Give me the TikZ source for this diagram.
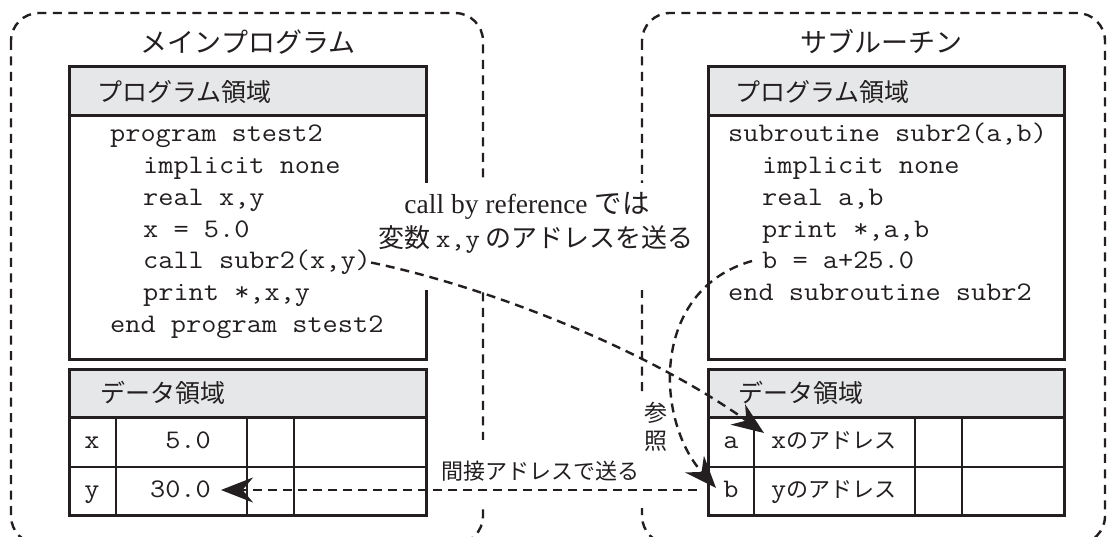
\documentclass[tikz,border=0pt]{standalone}
\usepackage{fontspec}
\setmainfont{Liberation Serif}
\setmonofont[FakeStretch=1.1]{Latin Modern Mono}
\newfontfamily\jp{Noto Sans CJK JP}
\usetikzlibrary{arrows.meta}
\definecolor{ink}{HTML}{231F20}
\definecolor{hdr}{HTML}{E6E7E8}
\tikzset{
  outerbox/.style={draw=ink, line width=2.4pt, dash pattern=on 9pt off 6.5pt, rounded corners=28pt},
  framebox/.style={draw=ink, line width=3pt},
  gridline/.style={draw=ink, line width=1.8pt},
  codeline/.style={anchor=base west, inner sep=0pt, font=\fontsize{26.8}{30}\ttfamily, text=ink},
  jptitle/.style={inner sep=0pt, text=ink, font={\jp\fontsize{27}{27}\selectfont}},
  jphead/.style={anchor=west, inner sep=0pt, text=ink, font={\jp\fontsize{25}{25}\selectfont}},
  cellmono/.style={inner sep=0pt, text=ink, font=\fontsize{26.8}{30}\ttfamily},
  darrow/.style={draw=ink, line width=2.4pt, dash pattern=on 9pt off 6pt, -{Stealth[length=32pt,width=25pt]}},
}
\begin{document}
\begin{tikzpicture}[x=1pt,y=-1pt]
\useasboundingbox (0,0) rectangle (1108,537);
\clip (0,0) rectangle (1108,537);
\fill[white] (0,0) rectangle (1108,537);

% outer dashed frames
\draw[outerbox] (11,13) rectangle (483,544);
\draw[outerbox] (642,13) rectangle (1105,544);

% left program box
\fill[hdr] (69,67) rectangle (426,116);
\draw[framebox] (69,67) rectangle (426,359);
\draw[framebox] (69,116) -- (426,116);
% left data box
\fill[hdr] (69,369) rectangle (426,417);
\draw[gridline] (69,467) -- (426,467) (116,417) -- (116,515) (247,417) -- (247,515) (294,417) -- (294,515);
\draw[framebox] (69,369) rectangle (426,515);
\draw[framebox] (69,417) -- (426,417);

% right program box
\fill[hdr] (708,67) rectangle (1064,116);
\draw[framebox] (708,67) rectangle (1064,359);
\draw[framebox] (708,116) -- (1064,116);
% right data box
\fill[hdr] (708,369) rectangle (1064,417);
\draw[gridline] (708,467) -- (1064,467) (754,417) -- (754,515) (915,417) -- (915,515) (962,417) -- (962,515);
\draw[framebox] (708,369) rectangle (1064,515);
\draw[framebox] (708,417) -- (1064,417);

% white masks behind labels
\fill[white] (395,183) rectangle (695,290);
\fill[white] (432,440) rectangle (652,508);
\fill[white] (632,392) rectangle (668,440);

% titles and headers
\node[jptitle] (tmain) at (248,42) {メインプログラム};
\node[jptitle] (tsub) at (881,42) {サブルーチン};
\node[jphead] (hpl) at (97,92) {プログラム領域};
\node[jphead] (hpr) at (735,92) {プログラム領域};
\node[jphead] (hdl) at (100,393) {データ領域};
\node[jphead] (hdr) at (738,393) {データ領域};

% left code
\node[codeline] (l1) at (110,142) {program stest2};
\node[codeline] (l2) at (143,173.7) {implicit none};
\node[codeline] (l3) at (143,205.4) {real x,y};
\node[codeline] (l4) at (143,237.1) {x = 5.0};
\node[codeline] (l5) at (143,268.8) {call subr2(x,y)};
\node[codeline] (l6) at (143,300.5) {print *,x,y};
\node[codeline] (l7) at (110,332.2) {end program stest2};

% right code
\node[codeline] (r1) at (728,142) {subroutine subr2(a,b)};
\node[codeline] (r2) at (762,173.7) {implicit none};
\node[codeline] (r3) at (762,205.4) {real a,b};
\node[codeline] (r4) at (762,237.1) {print *,a,b};
\node[codeline] (r5) at (762,268.8) {b = a+25.0};
\node[codeline] (r6) at (728,300.5) {end subroutine subr2};

% left data cells
\node[cellmono, anchor=base] (cx) at (92,448) {x};
\node[cellmono, anchor=base east] (vx) at (211,448) {5.0};
\node[cellmono, anchor=base] (cy) at (92,497) {y};
\node[cellmono, anchor=base east] (vy) at (211,497) {30.0};

% right data cells
\node[cellmono, anchor=base] (ca) at (731,448) {a};
\node[inner sep=0pt, anchor=base west, text=ink] (va) at (771,448) {{\fontsize{26.8}{30}\ttfamily x}{\jp\fontsize{22}{22}\selectfont のアドレス}};
\node[cellmono, anchor=base] (cb) at (731,497) {b};
\node[inner sep=0pt, anchor=base west, text=ink] (vb) at (771,497) {{\fontsize{26.8}{30}\ttfamily y}{\jp\fontsize{22}{22}\selectfont のアドレス}};

% labels
\node[inner sep=0pt, anchor=base, text=ink, font=\fontsize{27.5}{27.5}\selectfont] (cb1) at (527,214) {call by reference {\jp では}};
\node[inner sep=0pt, anchor=base, text=ink, font={\jp\fontsize{26}{26}\selectfont}] (cb2) at (536,248) {変数 {\fontsize{26}{26}\ttfamily x,y} のアドレスを送る};
\node[inner sep=0pt, text=ink, font={\jp\fontsize{22}{22}\selectfont}] (ind) at (540,471) {間接アドレスで送る};
\node[inner sep=0pt, align=center, text=ink, font={\jp\fontsize{23}{28}\selectfont}] (ref) at (656,427) {参\\照};

% connectors
\coordinate (aTip) at (764,433);
\coordinate (bSrc) at (752,261);
\coordinate (bTip) at (716,488);
\coordinate (yStart) at (697,490);
\coordinate (yTip) at (221,490);
\draw[darrow] (l5.east) .. controls (480,285) and (640,345) .. (aTip);
\draw[darrow] (bSrc) .. controls (650,290) and (655,420) .. (bTip);
\draw[darrow] (yStart) -- (yTip);
\end{tikzpicture}
\end{document}
